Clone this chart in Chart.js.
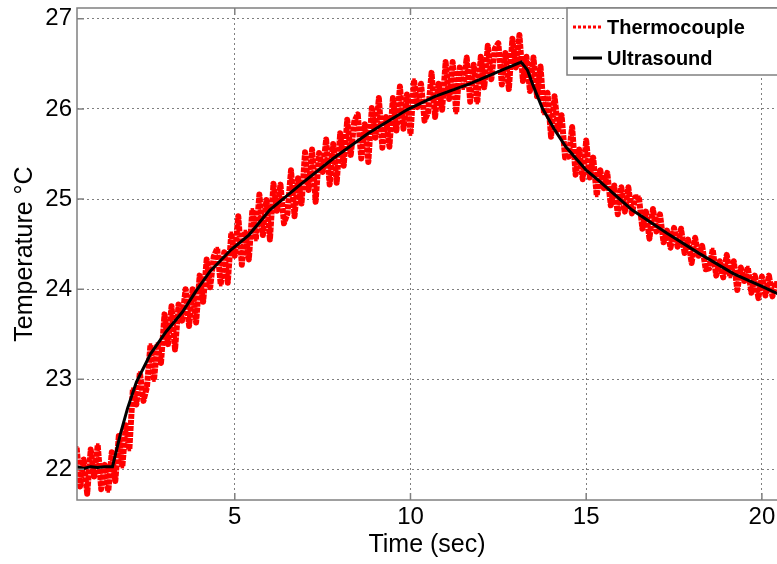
<!DOCTYPE html>
<html>
<head>
<meta charset="utf-8">
<script src="https://cdn.jsdelivr.net/npm/chart.js@4"></script>
<style>
  html, body { margin: 0; padding: 0; background: #fff; }
  #wrap { width: 777px; height: 564px; }
</style>
</head>
<body>
<div id="wrap"><canvas id="myChart"></canvas></div>
<script>
// series names and axis ticks
var seriesNames = ['Thermocouple', 'Ultrasound'];
var xTicks = [5, 10, 15, 20];
var yTicks = [22, 23, 24, 25, 26, 27];

var tcTime = [
  0.5, 0.6, 0.7, 0.8, 0.9, 1.0, 1.1, 1.2, 1.3, 1.4,
  1.5, 1.6, 1.7, 1.8, 1.9, 2.0, 2.1, 2.2, 2.3, 2.4,
  2.5, 2.6, 2.7, 2.8, 2.9, 3.0, 3.1, 3.2, 3.3, 3.4,
  3.5, 3.6, 3.7, 3.8, 3.9, 4.0, 4.1, 4.2, 4.3, 4.4,
  4.5, 4.6, 4.7, 4.8, 4.9, 5.0, 5.1, 5.2, 5.3, 5.4,
  5.5, 5.6, 5.7, 5.8, 5.9, 6.0, 6.1, 6.2, 6.3, 6.4,
  6.5, 6.6, 6.7, 6.8, 6.9, 7.0, 7.1, 7.2, 7.3, 7.4,
  7.5, 7.6, 7.7, 7.8, 7.9, 8.0, 8.1, 8.2, 8.3, 8.4,
  8.5, 8.6, 8.7, 8.8, 8.9, 9.0, 9.1, 9.2, 9.3, 9.4,
  9.5, 9.6, 9.7, 9.8, 9.9, 10.0, 10.1, 10.2, 10.3, 10.4,
  10.5, 10.6, 10.7, 10.8, 10.9, 11.0, 11.1, 11.2, 11.3, 11.4,
  11.5, 11.6, 11.7, 11.8, 11.9, 12.0, 12.1, 12.2, 12.3, 12.4,
  12.5, 12.6, 12.7, 12.8, 12.9, 13.0, 13.1, 13.2, 13.3, 13.4,
  13.5, 13.6, 13.7, 13.8, 13.9, 14.0, 14.1, 14.2, 14.3, 14.4,
  14.5, 14.6, 14.7, 14.8, 14.9, 15.0, 15.1, 15.2, 15.3, 15.4,
  15.5, 15.6, 15.7, 15.8, 15.9, 16.0, 16.1, 16.2, 16.3, 16.4,
  16.5, 16.6, 16.7, 16.8, 16.9, 17.0, 17.1, 17.2, 17.3, 17.4,
  17.5, 17.6, 17.7, 17.8, 17.9, 18.0, 18.1, 18.2, 18.3, 18.4,
  18.5, 18.6, 18.7, 18.8, 18.9, 19.0, 19.1, 19.2, 19.3, 19.4,
  19.5, 19.6, 19.7, 19.8, 19.9, 20.0, 20.1, 20.2, 20.3, 20.4
];
var tcTemp = [
  22.24, 21.81, 22.11, 21.73, 22.22, 21.92, 22.27, 21.78, 22.05, 21.76,
  22.19, 21.87, 22.37, 22.03, 22.49, 22.22, 22.89, 22.72, 23.07, 22.76,
  22.91, 23.38, 22.99, 23.39, 23.18, 23.72, 23.39, 23.81, 23.33, 23.83,
  23.65, 24.00, 23.59, 24.00, 23.63, 24.15, 23.86, 24.33, 24.02, 24.36,
  24.45, 24.05, 24.41, 24.07, 24.62, 24.37, 24.81, 24.27, 24.64, 24.33,
  24.88, 24.55, 25.05, 24.60, 24.99, 24.55, 25.17, 24.87, 25.16, 24.73,
  24.84, 25.32, 24.81, 25.23, 24.95, 25.52, 25.10, 25.55, 24.97, 25.51,
  25.30, 25.66, 25.16, 25.61, 25.18, 25.73, 25.37, 25.88, 25.49, 25.86,
  25.94, 25.45, 25.83, 25.41, 26.01, 25.68, 26.12, 25.57, 25.91, 25.58,
  26.12, 25.76, 26.25, 25.78, 26.16, 25.72, 26.32, 26.02, 26.28, 25.87,
  25.96, 26.40, 25.91, 26.28, 25.99, 26.52, 26.11, 26.52, 25.96, 26.46,
  26.23, 26.57, 26.08, 26.49, 26.07, 26.58, 26.24, 26.70, 26.33, 26.67,
  26.73, 26.27, 26.62, 26.22, 26.78, 26.46, 26.82, 26.31, 26.58, 26.20,
  26.57, 26.14, 26.47, 25.95, 26.18, 25.69, 26.14, 25.77, 25.93, 25.46,
  25.47, 25.80, 25.27, 25.55, 25.22, 25.65, 25.24, 25.46, 25.04, 25.32,
  25.12, 25.29, 24.93, 25.15, 24.83, 25.13, 24.86, 25.13, 24.84, 25.02,
  25.02, 24.67, 24.86, 24.56, 24.89, 24.64, 24.83, 24.52, 24.65, 24.46,
  24.68, 24.47, 24.67, 24.40, 24.55, 24.29, 24.57, 24.37, 24.48, 24.22,
  24.23, 24.44, 24.15, 24.31, 24.13, 24.38, 24.14, 24.31, 23.99, 24.24,
  24.09, 24.24, 23.96, 24.15, 23.90, 24.14, 23.93, 24.15, 23.92, 24.07
];

// Ultrasound estimate
var usTime = [0.5, 0.7, 0.9, 1.1, 1.3, 1.52, 1.75, 1.95, 2.2, 2.6, 3.05, 3.5, 3.9, 4.3, 4.9,
  5.4, 6.0, 6.9, 7.8, 8.8, 9.9, 10.7, 11.7, 12.6, 13.15, 13.33, 13.5, 13.75, 14.1, 14.42,
  15.0, 15.4, 16.3, 17.3, 18.2, 19.2, 20.0, 20.45];
var usTemp = [22.03, 22.01, 22.03, 22.02, 22.03, 22.03, 22.4, 22.68, 22.97, 23.28, 23.53, 23.74, 23.98, 24.2, 24.44,
  24.6, 24.88, 25.17, 25.45, 25.73, 25.99, 26.14, 26.28, 26.43, 26.52, 26.43, 26.25, 26.01, 25.77, 25.58,
  25.32, 25.19, 24.88, 24.62, 24.40, 24.17, 24.03, 23.95];

function toPoints(xs, ys) {
  return xs.map(function (x, i) { return { x: x, y: ys[i] }; });
}

var fontFamily = '"Liberation Sans", Arial, sans-serif';

// cadre, petits ticks et légende façon matlab
var framePlugin = {
  id: 'frame',
  afterDatasetsDraw: function (chart) {
    var ctx = chart.ctx, a = chart.chartArea;
    var xs = chart.scales.x, ys = chart.scales.y;
    ctx.save();
    ctx.strokeStyle = '#808080';
    ctx.lineWidth = 1.5;
    ctx.setLineDash([]);
    ctx.strokeRect(a.left, a.top, a.right - a.left + 10, a.bottom - a.top);
    ctx.beginPath();
    xs.ticks.forEach(function (t) {
      var px = xs.getPixelForValue(t.value);
      ctx.moveTo(px, a.bottom); ctx.lineTo(px, a.bottom - 7);
      ctx.moveTo(px, a.top); ctx.lineTo(px, a.top + 7);
    });
    ys.ticks.forEach(function (t) {
      var py = ys.getPixelForValue(t.value);
      ctx.moveTo(a.left, py); ctx.lineTo(a.left + 7, py);
    });
    ctx.stroke();

    // legend box
    var lx = a.right - 210, ly = a.top, lh = 67;
    ctx.fillStyle = '#fff';
    ctx.fillRect(lx, ly, 220, lh);
    ctx.strokeStyle = '#808080';
    ctx.lineWidth = 1.5;
    ctx.strokeRect(lx, ly, 220, lh);
    ctx.font = 'bold 20px ' + fontFamily;
    ctx.textBaseline = 'middle';
    ctx.textAlign = 'left';
    var rows = [chart.data.datasets[1], chart.data.datasets[0]];
    rows.forEach(function (ds, i) {
      var y = ly + 19 + i * 31;
      ctx.strokeStyle = ds.borderColor;
      ctx.lineWidth = 3;
      ctx.setLineDash(ds.borderDash ? [3, 2] : []);
      ctx.beginPath();
      ctx.moveTo(lx + 6, y); ctx.lineTo(lx + 35, y);
      ctx.stroke();
      ctx.setLineDash([]);
      ctx.fillStyle = '#000';
      ctx.fillText(ds.label, lx + 40, y + 1);
    });
    ctx.restore();
  }
};

var config = {
  type: 'line',
  data: {
    datasets: [{
      label: seriesNames[1],
      data: toPoints(usTime, usTemp),
      borderColor: '#000',
      borderWidth: 3,
      pointRadius: 0,
      tension: 0,
      fill: false,
      order: 1
    }, {
      label: seriesNames[0],
      data: toPoints(tcTime, tcTemp),
      borderColor: '#ff0000',
      borderWidth: 6,
      borderDash: [5, 1],
      borderJoinStyle: 'round',
      pointStyle: 'rect',
      pointRadius: 2.5,
      pointBorderWidth: 0,
      pointBackgroundColor: '#ff0000',
      tension: 0,
      fill: false,
      order: 2
    }]
  },
  options: {
    responsive: true,
    maintainAspectRatio: false,
    animation: false,
    layout: { autoPadding: false, padding: { top: 8, right: 0, bottom: 0, left: 0 } },
    plugins: { legend: { display: false }, tooltip: { enabled: false } },
    scales: {
      x: {
        type: 'linear',
        min: 0.51,
        max: 20.43,
        afterBuildTicks: function (s) { s.ticks = xTicks.map(function (v) { return { value: v }; }); },
        afterFit: function (s) { s.height = 64; s.paddingLeft = 0; s.paddingRight = 0; },
        grid: { color: 'rgba(0,0,0,0.5)', lineWidth: 1, drawTicks: false },
        border: { display: false, dash: [2, 3] },
        ticks: { color: '#000', font: { family: fontFamily, size: 24 }, padding: 3, maxRotation: 0, autoSkip: false },
        title: { display: true, text: 'Time (sec)', color: '#000', font: { family: fontFamily, size: 25 }, padding: { top: 0, bottom: 4 } }
      },
      y: {
        min: 21.66,
        max: 27.12,
        afterBuildTicks: function (s) { s.ticks = yTicks.map(function (v) { return { value: v }; }); },
        afterFit: function (s) { s.width = 77; s.paddingTop = 0; s.paddingBottom = 0; },
        grid: { color: 'rgba(0,0,0,0.5)', lineWidth: 1, drawTicks: false },
        border: { display: false, dash: [2, 3] },
        ticks: { color: '#000', font: { family: fontFamily, size: 24 }, padding: 5 },
        title: { display: true, text: 'Temperature °C', color: '#000', font: { family: fontFamily, size: 25 }, padding: { top: 10, bottom: 0 } }
      }
    }
  },
  plugins: [framePlugin]
};

var myChart = new Chart(document.getElementById('myChart').getContext('2d'), config);
</script>
</body>
</html>
